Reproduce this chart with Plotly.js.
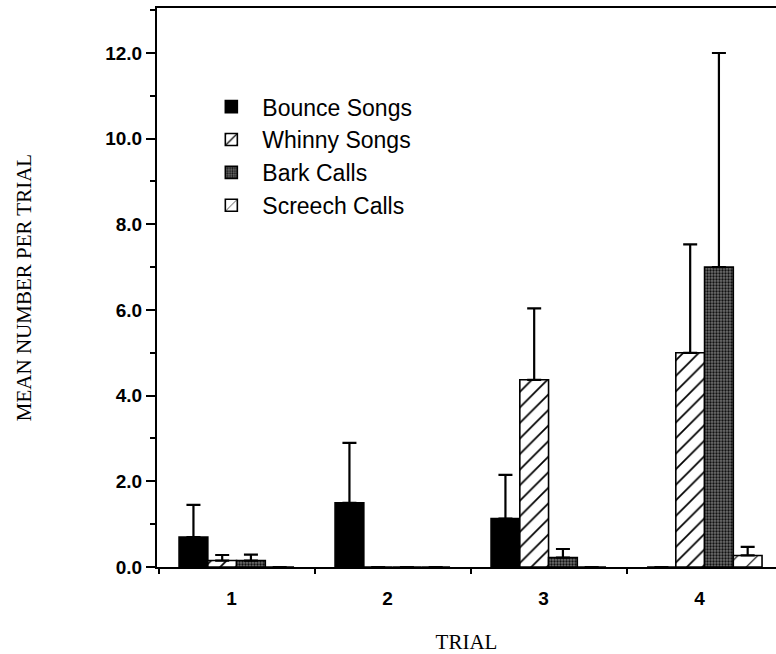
<!DOCTYPE html>
<html>
<head>
<meta charset="utf-8">
<script src="https://cdn.plot.ly/plotly-3.0.1.min.js"></script>
<style>html,body{margin:0;padding:0;background:#fff;}#chart{width:776px;height:654px;}</style>
</head>
<body>
<div id="chart"></div>
<script>
// Data
const trials = [1, 2, 3, 4];
const tickLabels = ["1", "2", "3", "4"];
const seriesNames = ["Bounce Songs", "Whinny Songs", "Bark Calls", "Screech Calls"];

const bounce      = [0.70, 1.50, 1.13, 0];
const bounceErr   = [0.75, 1.40, 1.02, null];
const whinny      = [0.15, 0, 4.37, 5.00];
const whinnyErr   = [0.13, null, 1.67, 2.53];
const bark        = [0.15, 0, 0.22, 7.00];
const barkErr     = [0.14, null, 0.20, 5.00];
const screech     = [0, 0, 0, 0.27];
const screechErr  = [null, null, null, 0.20];

const values = [bounce, whinny, bark, screech];
const errs = [bounceErr, whinnyErr, barkErr, screechErr];

const patterns = [
  {shape: "", fillmode: "replace"},
  {shape: "/", bgcolor: "#ffffff", fgcolor: "#000000", size: 11, solidity: 0.16, fillmode: "replace"},
  {shape: ".", bgcolor: "#6e6e6e", fgcolor: "#111111", size: 3, solidity: 0.45, fillmode: "replace"},
  {shape: "/", bgcolor: "#ffffff", fgcolor: "#000000", size: 14, solidity: 0.08, fillmode: "replace"}
];
const fills = ["#000000", "#ffffff", "#6e6e6e", "#ffffff"];

const traces = seriesNames.map((name, i) => ({
  type: "bar",
  name: name,
  x: trials,
  y: values[i],
  legendgroup: "g" + i,
  marker: {
    color: fills[i],
    pattern: patterns[i],
    line: {color: "#000000", width: 1.6}
  },
  error_y: {
    type: "data",
    symmetric: false,
    array: errs[i],
    arrayminus: errs[i].map(() => 0),
    color: "#000000",
    thickness: 2.2,
    width: 7
  },
  hoverinfo: "skip"
}));

const layout = {
  width: 776,
  height: 654,
  margin: {l: 157, r: 0, t: 8, b: 87},
  paper_bgcolor: "#ffffff",
  plot_bgcolor: "#ffffff",
  barmode: "group",
  bargap: 0.263,
  bargroupgap: 0,
  showlegend: true,
  legend: {
    x: 0.07, xanchor: "left",
    y: 0.862, yanchor: "top",
    bgcolor: "rgba(0,0,0,0)",
    font: {family: "Liberation Sans, Arial, sans-serif", size: 23, color: "#000"},
    traceorder: "grouped",
    tracegroupgap: 0,
    itemwidth: 52
  },
  xaxis: {
    range: [0.49, 4.458],
    tickvals: trials,
    ticktext: tickLabels,
    ticks: "",
    ticklabelshift: -5,
    ticklabelstandoff: 13,
    tickfont: {family: "Liberation Sans, Arial, sans-serif", size: 19, color: "#000", weight: "bold"},
    minor: {tick0: 0.5, dtick: 1, ticks: "outside", ticklen: 5, tickwidth: 2, tickcolor: "#000"},
    showgrid: false,
    zeroline: false,
    showline: true,
    linecolor: "#000",
    linewidth: 2,
    mirror: true,
    title: {text: "TRIAL", font: {family: "Liberation Serif, Times New Roman, serif", size: 21, color: "#000"}, standoff: 30}
  },
  yaxis: {
    range: [0, 13.05],
    tick0: 0,
    dtick: 2,
    tickformat: ".1f",
    ticks: "outside",
    ticklen: 9,
    tickwidth: 2,
    tickcolor: "#000",
    tickfont: {family: "Liberation Sans, Arial, sans-serif", size: 19, color: "#000", weight: "bold"},
    minor: {dtick: 1, ticks: "outside", ticklen: 5, tickwidth: 2, tickcolor: "#000"},
    showgrid: false,
    zeroline: false,
    showline: true,
    linecolor: "#000",
    linewidth: 2,
    mirror: false,
    title: {text: "MEAN NUMBER PER TRIAL", font: {family: "Liberation Serif, Times New Roman, serif", size: 21, color: "#000"}, standoff: 68}
  }
};

Plotly.newPlot("chart", traces, layout, {displayModeBar: false, staticPlot: true});
</script>
</body>
</html>
